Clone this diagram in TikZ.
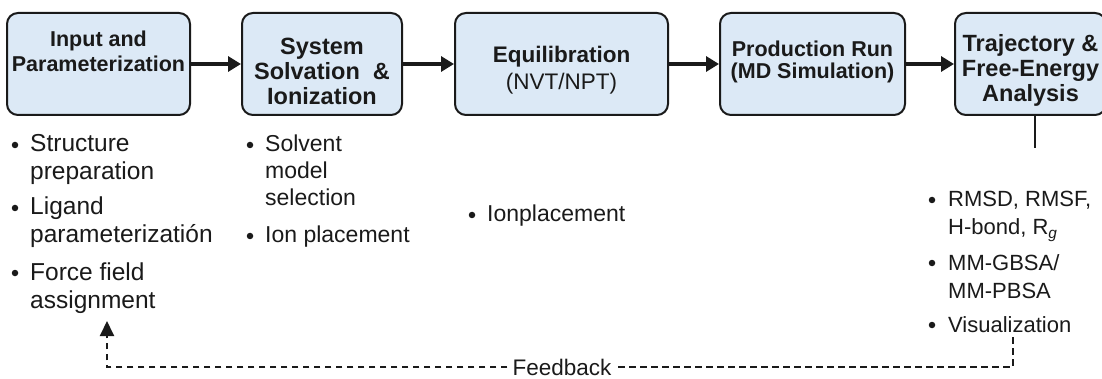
\documentclass[tikz,border=0pt]{standalone}
\usepackage{fontspec}
\setmainfont{Liberation Sans}
\usetikzlibrary{arrows.meta}
\definecolor{boxfill}{HTML}{DCE9F6}
\definecolor{ink}{HTML}{1A1A1A}
\tikzset{
  stage/.style={draw=ink, line width=2pt, fill=boxfill, rounded corners=11pt, inner sep=0pt},
  title/.style 2 args={font=\fontsize{#1}{#2}\selectfont\bfseries, text=ink, inner sep=0pt, anchor=base},
  subt/.style 2 args={font=\fontsize{#1}{#2}\selectfont, text=ink, inner sep=0pt, anchor=base},
  flow/.style={draw=ink, line width=3.2pt, -{Triangle[length=13pt,width=15pt]}},
  itm/.style={font=\fontsize{23}{#1}\selectfont, text=ink, inner sep=0pt, anchor=base west},
  itmbig/.style={font=\fontsize{24.5}{#1}\selectfont, text=ink, inner sep=0pt, anchor=base west},
  itmsmall/.style={font=\fontsize{22}{#1}\selectfont, text=ink, inner sep=0pt, anchor=base west},
  dot/.style={circle, fill=ink, inner sep=0pt, minimum size=6.5pt},
  fb/.style={draw=ink, line width=1.9pt, dash pattern=on 6.5pt off 4.5pt},
  stub/.style={draw=ink, line width=2.6pt},
}
\begin{document}
\begin{tikzpicture}[x=1pt,y=-1pt]
\useasboundingbox (0,0) rectangle (1102,379);
\clip (0,0) rectangle (1102,379);
\fill[white] (0,0) rectangle (1102,379);

% stage boxes
\node[stage, minimum width=183pt, minimum height=102pt] (b1) at (98.5,64) {};
\node[stage, minimum width=160pt, minimum height=102pt] (b2) at (322,64) {};
\node[stage, minimum width=213pt, minimum height=102pt] (b3) at (561.5,64) {};
\node[stage, minimum width=185pt, minimum height=102pt] (b4) at (812.5,64) {};
\node[stage, minimum width=151pt, minimum height=102pt] (b5) at (1030.5,64) {};

% titles
\node[title={21.5}{25}] (t1) at (98.5,47) {\begin{tabular}[t]{@{}c@{}}Input and\\Parameterization\end{tabular}};
\node[title={23.5}{25}] (t2) at (322,55) {\begin{tabular}[t]{@{}c@{}}System\\Solvation\ \ \&\\Ionization\end{tabular}};
\node[title={22.5}{27}] (t3) at (561.5,63) {Equilibration};
\node[subt={22.5}{27}] (t3b) at (561.5,90) {(NVT/NPT)};
\node[title={21.5}{20}] (t4) at (812.5,57) {\begin{tabular}[t]{@{}c@{}}Production Run\\(MD Simulation)\end{tabular}};
\node[title={23.5}{25}] (t5) at (1030.5,52) {\begin{tabular}[t]{@{}c@{}}Trajectory \&\\Free-Energy\\Analysis\end{tabular}};

% flow arrows
\draw[flow] (b1.east) -- (b2.west);
\draw[flow] (b2.east) -- (b3.west);
\draw[flow] (b3.east) -- (b4.west);
\draw[flow] (b4.east) -- (b5.west);

% stub below last box
\coordinate (stubend) at (1035,148);
\draw[stub] (stubend |- b5.south) -- (stubend);

% column 1
\node[dot] (d1a) at (15,145) {};
\node[itmbig=28] (i1a) at (30,152) {\begin{tabular}[t]{@{}l@{}}Structure\\preparation\end{tabular}};
\node[dot] (d1b) at (15,208) {};
\node[itmbig=28] (i1b) at (30,215) {\begin{tabular}[t]{@{}l@{}}Ligand\\parameterizatión\end{tabular}};
\node[dot] (d1c) at (15,273) {};
\node[itmbig=28] (i1c) at (30,280) {\begin{tabular}[t]{@{}l@{}}Force field\\assignment\end{tabular}};

% column 2
\node[dot] (d2a) at (250,145) {};
\node[itm=27] (i2a) at (265,152) {\begin{tabular}[t]{@{}l@{}}Solvent\\model\\selection\end{tabular}};
\node[dot] (d2b) at (250,236) {};
\node[itm=28] (i2b) at (265,243) {Ion placement};

% column 3
\node[dot] (d3a) at (472,215) {};
\node[itm=28] (i3a) at (487,222) {Ionplacement};

% column 5
\node[dot] (d5a) at (932,200) {};
\node[itmsmall=28] (i5a) at (948,207) {\begin{tabular}[t]{@{}l@{}}RMSD, RMSF,\\H-bond, R\textsubscript{\itshape g}\end{tabular}};
\node[dot] (d5b) at (932,263) {};
\node[itmsmall=28] (i5b) at (948,270) {\begin{tabular}[t]{@{}l@{}}MM-GBSA/\\MM-PBSA\end{tabular}};
\node[dot] (d5c) at (932,325) {};
\node[itmsmall=28] (i5c) at (948,332) {Visualization};

% feedback loop
\coordinate (fbs) at (1013,337);
\coordinate (fbe) at (107,321);
\node[font=\fontsize{22.5}{27}\selectfont, text=ink, inner xsep=5pt, inner ysep=0pt, anchor=base] (fbl) at (562,375) {Feedback};
\draw[fb] (fbs) |- (fbl.east);
\draw[fb, -{Triangle[length=15pt,width=14pt]}] (fbl.west) -| (fbe);
\end{tikzpicture}
\end{document}
